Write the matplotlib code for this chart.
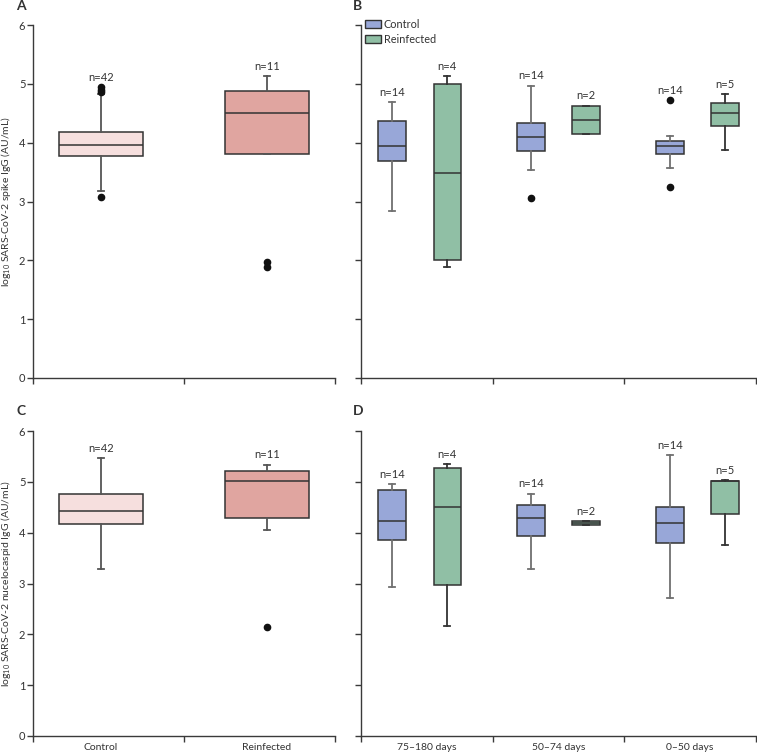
import matplotlib.pyplot as plt

plt.rcParams['font.family'] = ['Lato', 'DejaVu Sans']
plt.rcParams['mathtext.fontset'] = 'custom'
plt.rcParams['mathtext.rm'] = 'Lato'
plt.rcParams['mathtext.it'] = 'Lato:italic'
plt.rcParams['mathtext.bf'] = 'Lato:bold'

# panels A and C: all participants
groups = ['Control', 'Reinfected']
group_n = [42, 11]

spike_med = [3.96, 4.51]
spike_q1 = [3.78, 3.81]
spike_q3 = [4.18, 4.88]
spike_lo = [3.17, 3.81]
spike_hi = [4.82, 5.13]
spike_fliers = [[3.08, 4.86, 4.90, 4.94], [1.88, 1.97]]

nuc_med = [4.43, 5.02]
nuc_q1 = [4.17, 4.28]
nuc_q3 = [4.77, 5.21]
nuc_lo = [3.29, 4.05]
nuc_hi = [5.46, 5.34]
nuc_fliers = [[], [2.14]]

# panels B and D: by time since first infection
periods = ['75–180 days', '50–74 days', '0–50 days']
ctrl_n = [14, 14, 14]
reinf_n = [4, 2, 5]

spike_ctrl_med = [3.95, 4.09, 3.94]
spike_ctrl_q1 = [3.69, 3.86, 3.81]
spike_ctrl_q3 = [4.37, 4.34, 4.02]
spike_ctrl_lo = [2.84, 3.53, 3.57]
spike_ctrl_hi = [4.69, 4.97, 4.12]
spike_ctrl_fliers = [[], [3.06], [3.25, 4.72]]

spike_reinf_med = [3.49, 4.39, 4.50]
spike_reinf_q1 = [2.00, 4.15, 4.29]
spike_reinf_q3 = [5.00, 4.63, 4.68]
spike_reinf_lo = [1.89, 4.15, 3.87]
spike_reinf_hi = [5.13, 4.63, 4.83]
spike_reinf_fliers = [[], [], []]

nuc_ctrl_med = [4.23, 4.28, 4.20]
nuc_ctrl_q1 = [3.85, 3.93, 3.80]
nuc_ctrl_q3 = [4.83, 4.54, 4.50]
nuc_ctrl_lo = [2.94, 3.28, 2.72]
nuc_ctrl_hi = [4.96, 4.77, 5.53]
nuc_ctrl_fliers = [[], [], []]

nuc_reinf_med = [4.50, 4.19, 5.01]
nuc_reinf_q1 = [2.98, 4.15, 4.36]
nuc_reinf_q3 = [5.28, 4.23, 5.02]
nuc_reinf_lo = [2.17, 4.15, 3.76]
nuc_reinf_hi = [5.35, 4.23, 5.03]
nuc_reinf_fliers = [[], [], []]

PINK_LIGHT = '#f6dfde'
PINK = '#e0a5a0'
BLUE = '#98a7d8'
GREEN = '#90bfa5'
EDGE = '#333333'
SPINE = '#3a3a3a'


def make_stats(med, q1, q3, lo, hi, fliers):
    return [dict(med=m, q1=a, q3=b, whislo=l, whishi=h, fliers=f)
            for m, a, b, l, h, f in zip(med, q1, q3, lo, hi, fliers)]


def draw_boxes(ax, stats, positions, width, colors, counts, whisk='#555555'):
    bp = ax.bxp(stats, positions=positions, widths=width, patch_artist=True,
                capwidths=0.045, manage_ticks=False,
                boxprops=dict(edgecolor=EDGE, linewidth=1.1),
                medianprops=dict(color=EDGE, linewidth=1.1),
                whiskerprops=dict(color=whisk, linewidth=1.3),
                capprops=dict(color=whisk, linewidth=1.3),
                flierprops=dict(marker='o', markerfacecolor='#111111',
                                markeredgecolor='#111111', markersize=4.5))
    for patch, c in zip(bp['boxes'], colors):
        patch.set_facecolor(c)
    for s, x, n in zip(stats, positions, counts):
        top = max([s['whishi'], s['q3']] + list(s['fliers']))
        ax.annotate(f'n={n}', (x, top), xytext=(0, 3), textcoords='offset points',
                    ha='center', va='bottom', fontsize=8, color='#333333')


def style_axis(ax, nbins, ylabel=None, show_yticklabels=True):
    ax.set_ylim(0, 6)
    ax.set_xlim(0, nbins)
    for side in ('top', 'right'):
        ax.spines[side].set_visible(False)
    for side in ('left', 'bottom'):
        ax.spines[side].set_color(SPINE)
        ax.spines[side].set_linewidth(1.0)
    ax.set_yticks(range(7))
    ax.set_xticks(range(nbins + 1))
    ax.set_xticklabels([])
    ax.tick_params(axis='both', which='major', length=4, width=1.0,
                   color=SPINE, labelsize=8, labelcolor='#333333', pad=1.5)
    ax.tick_params(axis='x', which='minor', length=0, labelsize=7.5,
                   labelcolor='#333333', pad=5)
    if not show_yticklabels:
        ax.set_yticklabels([])
    if ylabel:
        ax.set_ylabel(ylabel, fontsize=7.5, color='#333333', labelpad=4)


fig = plt.figure(figsize=(7.57, 7.54), dpi=100)
W, H = 757, 754


def add_axes(x0, x1, ytop, ybot):
    return fig.add_axes([x0 / W, 1 - ybot / H, (x1 - x0) / W, (ybot - ytop) / H])


axA = add_axes(33, 335, 25, 378)
axB = add_axes(361, 756, 25, 378)
axC = add_axes(33, 335, 431, 736)
axD = add_axes(361, 756, 431, 736)

pos_all = [0.45, 1.55]
grp_centres = [0.446, 1.50, 2.555]
pos_ctrl = [c - 0.21 for c in grp_centres]
pos_reinf = [c + 0.21 for c in grp_centres]

# A
draw_boxes(axA, make_stats(spike_med, spike_q1, spike_q3, spike_lo, spike_hi, spike_fliers),
           pos_all, 0.556, [PINK_LIGHT, PINK], group_n)
style_axis(axA, 2, r'log$_{\mathregular{10}}$ SARS-CoV-2 spike IgG (AU/mL)')

# C
draw_boxes(axC, make_stats(nuc_med, nuc_q1, nuc_q3, nuc_lo, nuc_hi, nuc_fliers),
           pos_all, 0.556, [PINK_LIGHT, PINK], group_n)
style_axis(axC, 2, r'log$_{\mathregular{10}}$ SARS-CoV-2 nucelocaspid IgG (AU/mL)')
axC.set_xticks(pos_all, minor=True)
axC.set_xticklabels(groups, minor=True)

# B
draw_boxes(axB, make_stats(spike_ctrl_med, spike_ctrl_q1, spike_ctrl_q3, spike_ctrl_lo,
                           spike_ctrl_hi, spike_ctrl_fliers),
           pos_ctrl, 0.21, [BLUE] * 3, ctrl_n, whisk='#707070')
draw_boxes(axB, make_stats(spike_reinf_med, spike_reinf_q1, spike_reinf_q3, spike_reinf_lo,
                           spike_reinf_hi, spike_reinf_fliers),
           pos_reinf, 0.21, [GREEN] * 3, reinf_n, whisk='#333333')
style_axis(axB, 3, show_yticklabels=False)

# D
draw_boxes(axD, make_stats(nuc_ctrl_med, nuc_ctrl_q1, nuc_ctrl_q3, nuc_ctrl_lo,
                           nuc_ctrl_hi, nuc_ctrl_fliers),
           pos_ctrl, 0.21, [BLUE] * 3, ctrl_n, whisk='#707070')
draw_boxes(axD, make_stats(nuc_reinf_med, nuc_reinf_q1, nuc_reinf_q3, nuc_reinf_lo,
                           nuc_reinf_hi, nuc_reinf_fliers),
           pos_reinf, 0.21, [GREEN] * 3, reinf_n, whisk='#333333')
style_axis(axD, 3, show_yticklabels=False)
axD.set_xticks([0.5, 1.5, 2.5], minor=True)
axD.set_xticklabels(periods, minor=True)

# legend in B
handles = [plt.Rectangle((0, 0), 1, 1, facecolor=BLUE, edgecolor=EDGE, linewidth=1.0),
           plt.Rectangle((0, 0), 1, 1, facecolor=GREEN, edgecolor=EDGE, linewidth=1.0)]
axB.legend(handles, groups, loc='upper left', bbox_to_anchor=(0.0, 1.03), frameon=False,
           fontsize=7.8, handlelength=1.4, handleheight=0.8, handletextpad=0.3,
           labelspacing=0.35, borderaxespad=0.2, borderpad=0.2,
           labelcolor='#333333')

# panel letters
for letter, (x, y) in zip('ABCD', [(21, 6), (358, 6), (21, 411), (358, 411)]):
    fig.text(x / W, 1 - y / H, letter, ha='center', va='center', fontsize=10,
             fontweight='bold', color='#333333')

fig.savefig('out.png', dpi=100)
